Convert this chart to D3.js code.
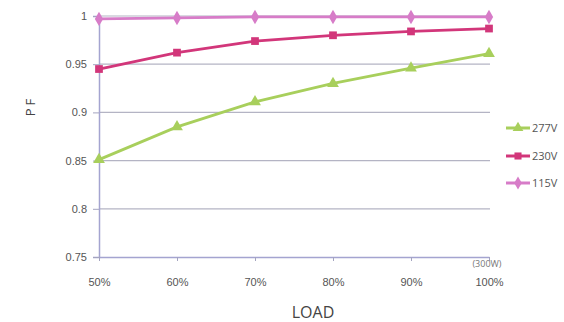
<!DOCTYPE html>
<html><head><meta charset="utf-8">
<script src="https://cdn.jsdelivr.net/npm/d3@7"></script>
<style>body{margin:0;background:#fff}svg{display:block;font-family:"Open Sans",sans-serif}</style>
</head><body>
<script>
const categories = ["50%","60%","70%","80%","90%","100%"];
const v277 = [0.851,0.885,0.911,0.930,0.946,0.961];
const v230 = [0.945,0.962,0.974,0.980,0.984,0.987];
const v115 = [0.997,0.998,0.999,0.999,0.999,0.999];
const yTicks = [0.75,0.8,0.85,0.9,0.95,1];
const seriesNames = ["277V","230V","115V"];

const W=564,H=322;
const svg=d3.select("body").append("svg").attr("width",W).attr("height",H);
const x=d3.scalePoint().domain(categories).range([99,489]);
const y=d3.scaleLinear().domain([0.75,1]).range([257,16]);

const series=[
 {name:"277V",values:v277,color:"#a8cf5c",shape:d3.symbolTriangle},
 {name:"230V",values:v230,color:"#d2367a",shape:d3.symbolSquare},
 {name:"115V",values:v115,color:"#d77cc8",shape:d3.symbolDiamond}
];

// grid
svg.append("g").selectAll("line").data(yTicks.filter(t=>t>0.75)).join("line")
 .attr("x1",99).attr("x2",490).attr("y1",d=>y(d)).attr("y2",d=>y(d))
 .attr("stroke","#b4b4c4").attr("stroke-width",1.2);

// y axis
const ya=svg.append("g").attr("transform","translate(99,0)")
 .call(d3.axisLeft(y).tickValues(yTicks).tickFormat(d=>d===1?"1":String(d)).tickSize(6).tickPadding(6));
ya.select(".domain").attr("stroke","#a4a4d0").attr("stroke-width",1.5);
ya.selectAll(".tick line").attr("stroke","#a4a4c0");
ya.selectAll("text").attr("fill","#555").style("font-size","11px");

// x axis
const xa=svg.append("g").attr("transform","translate(0,257)")
 .call(d3.axisBottom(x).tickSize(4).tickPadding(17).tickSizeOuter(0));
xa.select(".domain").attr("stroke","#a4a4d0").attr("stroke-width",1.5);
xa.selectAll(".tick line").attr("stroke","#a4a4c0");
xa.selectAll("text").attr("fill","#555").style("font-size","11px");

const line=d3.line().x((d,i)=>x(categories[i])).y(d=>y(d));
series.forEach(s=>{
 svg.append("path").datum(s.values).attr("d",line).attr("fill","none")
  .attr("stroke",s.color).attr("stroke-width",2.8);
 svg.append("g").selectAll("path").data(s.values).join("path")
  .attr("transform",(d,i)=>`translate(${x(categories[i])},${y(d)})`)
  .attr("d",d3.symbol().type(s.shape).size(60)).attr("fill",s.color);
});

// legend
const legY={"277V":128,"230V":156,"115V":183};
series.forEach(s=>{
 const g=svg.append("g").attr("transform",`translate(506,${legY[s.name]})`);
 g.append("line").attr("x1",0).attr("x2",24).attr("stroke",s.color).attr("stroke-width",3);
 g.append("path").attr("transform","translate(12,0)").attr("d",d3.symbol().type(s.shape).size(50)).attr("fill",s.color);
 g.append("text").attr("x",26).attr("y",4).text(s.name).attr("fill","#555").style("font-size","11px");
});

svg.append("text").attr("x",487).attr("y",267).attr("text-anchor","middle").text("(300W)")
 .attr("fill","#777").style("font-size","9px");
svg.append("text").attr("x",313).attr("y",318).attr("text-anchor","middle").text("LOAD")
 .attr("fill","#444").style("font-size","16px");
svg.append("text").attr("transform","translate(35,106) rotate(-90)").attr("text-anchor","middle")
 .text("PF").attr("fill","#444").style("font-size","13px").style("letter-spacing","3px");
</script>
</body></html>
